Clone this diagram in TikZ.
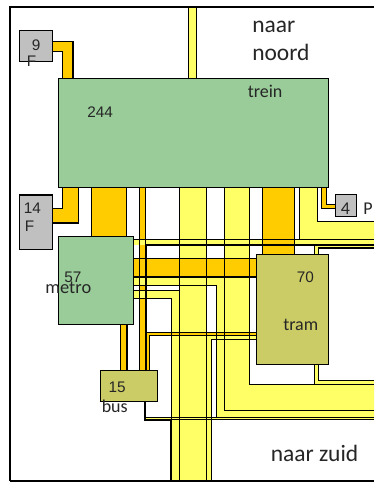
\documentclass[tikz,border=0pt]{standalone}
\usepackage{fontspec}
\setmainfont{Liberation Sans}
\newfontfamily\carl{Carlito}
\definecolor{flowyellow}{HTML}{FFFF66}
\definecolor{floworange}{HTML}{FFCC00}
\definecolor{boxgray}{HTML}{C0C0C0}
\definecolor{boxgreen}{HTML}{99CC99}
\definecolor{boxolive}{HTML}{CCCC66}
\tikzset{x=0.75pt,y=-0.75pt,
 yel/.style={fill=flowyellow},
 ora/.style={fill=floworange},
 edge/.style={draw=black,line width=0.8pt},
 thickedge/.style={draw=black,line width=1.5pt},
 basebox/.style={draw=black,line width=0.8pt,inner sep=0pt,outer sep=0pt,anchor=north west},
 graybox/.style={basebox,fill=boxgray},
 greenbox/.style={basebox,fill=boxgreen},
 olivebox/.style={basebox,fill=boxolive},
 lab/.style={font=\fontsize{11.5pt}{12pt}\selectfont,text=black!85,inner sep=0pt,anchor=base west},
 clab/.style={font=\carl\fontsize{13.5pt}{14pt}\selectfont,text=black!85,inner sep=0pt,anchor=base west},
 mlab/.style={font=\carl\fontsize{13.8pt}{15pt}\selectfont,text=black!85,inner sep=0pt,anchor=base west},
 big/.style={font=\carl\fontsize{17.6pt}{19pt}\selectfont,text=black!85,inner sep=0pt,anchor=base west}}
\begin{document}
\begin{tikzpicture}
\useasboundingbox (0,0) rectangle (374,484);
\fill[white] (0,0) rectangle (374,484);
% thin orange under yellow
\fill[ora] (139.5,188) rectangle (145.5,370);
% yellow bands
\fill[yel] (188.7,8) rectangle (196.3,78);
\fill[yel] (179.5,188) rectangle (206.5,420);
\fill[yel] (171.5,420) rectangle (211.5,481);
\fill[yel] (224.3,188) -- (249.3,188) -- (249.3,384.3) -- (374,384.3) -- (374,410.3) -- (224.3,410.3) -- cycle;
\fill[yel] (299.3,188) -- (317.3,188) -- (317.3,221.7) -- (374,221.7) -- (374,239.3) -- (299.3,239.3) -- cycle;
\fill[yel] (133.5,239.3) rectangle (374,245);
\fill[yel] (374,245) -- (374,248) -- (318.5,248) -- (318.5,380.3) -- (374,380.3) -- (374,384.3) -- (314.3,384.3) -- (314.3,245) -- cycle;
\fill[yel] (133.5,277) -- (224.3,277) -- (224.3,410.3) -- (374,410.3) -- (374,417.5) -- (216.5,417.5) -- (216.5,285.3) -- (133.5,285.3) -- cycle;
\fill[yel] (133.5,290.3) -- (179.5,290.3) -- (179.5,420) -- (171.5,420) -- (171.5,298.7) -- (133.5,298.7) -- cycle;
\fill[yel] (146,417.5) rectangle (374,419.7);
\fill[yel] (206.5,335.3) -- (256.3,335.3) -- (256.3,339.3) -- (211.5,339.3) -- (211.5,420) -- (206.5,420) -- cycle;
% orange bands
\fill[ora] (52.5,41.5) -- (73,41.5) -- (73,78.5) -- (62.7,78.5) -- (62.7,51.5) -- (52.5,51.5) -- cycle;
\fill[ora] (62.7,188) -- (78.5,188) -- (78.5,223) -- (52.5,223) -- (52.5,208.5) -- (62.7,208.5) -- cycle;
\fill[ora] (91.5,188) rectangle (126.5,236.5);
\fill[ora] (120.5,324.5) rectangle (127,370.3);
\fill[ora] (262.7,188) rectangle (294.3,254.3);
\fill[ora] (133.5,258.7) rectangle (256.3,277);
\fill[ora] (321.3,188) -- (326.3,188) -- (326.3,204.3) -- (335.3,204.3) -- (335.3,208.7) -- (321.3,208.7) -- cycle;
\fill[ora] (146.5,370.3) -- (146.5,332.5) -- (256.3,332.5) -- (256.3,335.3) -- (149.5,335.3) -- (149.5,370.3) -- cycle;
% outlines
\draw[edge] (52.5,41.5) -- (73,41.5) -- (73,78.5);
\draw[edge] (62.7,78.5) -- (62.7,51.5) -- (52.5,51.5);
\draw[edge] (62.7,188) -- (62.7,208.5) -- (52.5,208.5);
\draw[edge] (78.5,188) -- (78.5,223) -- (52.5,223);
\draw[edge] (91.5,188) -- (91.5,236.5);
\draw[edge] (126.5,188) -- (126.5,236.5);
\draw[edge] (120.5,324.5) -- (120.5,370.3);
\draw[edge] (127,324.5) -- (127,370.3);
\draw[edge] (139.5,188) -- (139.5,370.3);
\draw[edge] (145.5,188) -- (145.5,245);
\draw[edge] (188.7,8) -- (188.7,78.5);
\draw[edge] (196.3,8) -- (196.3,78.5);
\draw[edge] (179.5,188) -- (179.5,481);
\draw[edge] (206.5,188) -- (206.5,481);
\draw[edge] (211.5,481) -- (211.5,339.3) -- (256.3,339.3);
\draw[edge] (224.3,188) -- (224.3,410.3) -- (374,410.3);
\draw[edge] (249.3,188) -- (249.3,384.3) -- (374,384.3);
\draw[edge] (262.7,188) -- (262.7,254.3);
\draw[edge] (294.3,188) -- (294.3,254.3);
\draw[edge] (299.3,188) -- (299.3,239.3);
\draw[edge] (317.3,188) -- (317.3,221.7) -- (374,221.7);
\draw[edge] (321.3,188) -- (321.3,208.7) -- (335.3,208.7);
\draw[edge] (326.3,188) -- (326.3,204.3) -- (335.3,204.3);
\draw[edge] (133.5,239.3) -- (374,239.3);
\draw[edge] (374,248) -- (318.5,248) -- (318.5,380.3) -- (374,380.3);
\draw[edge] (314.3,246) -- (314.3,385.3);
\draw[edge] (133.5,258.7) -- (256.3,258.7);
\draw[edge] (133.5,277) -- (256.3,277);
\draw[edge] (133.5,285.3) -- (216.5,285.3) -- (216.5,417.5);
\draw[edge] (133.5,290.3) -- (179.5,290.3);
\draw[edge] (133.5,298.7) -- (171.5,298.7) -- (171.5,420);
\draw[edge] (149.5,370.3) -- (149.5,335.3) -- (256.3,335.3);
\draw[edge] (146.5,332.5) -- (256.3,332.5);
\draw[edge] (146,417.5) -- (374,417.5);
\draw[edge] (146,419.7) -- (374,419.7);
\draw[thickedge] (374,245) -- (146,245) -- (146,370.3);
\draw[thickedge] (144.7,401.3) -- (144.7,420) -- (171.3,420) -- (171.3,481);
% frame
\draw[line width=1.5pt] (10,481) -- (10,7.5) -- (374,7.5);
\draw[line width=0.8pt] (10,481) -- (374,481);
% boxes
\node[graybox,minimum width=24.75pt,minimum height=23.6pt] (n9) at (19.5,30.5) {};
\node[graybox,minimum width=24.75pt,minimum height=41.2pt] (n14) at (19.5,195) {};
\node[graybox,minimum width=16pt,minimum height=16.7pt] (n4) at (335.3,194.3) {};
\node[greenbox,minimum width=202.5pt,minimum height=82.1pt] (trein) at (58.5,78.5) {};
\node[greenbox,minimum width=56.25pt,minimum height=66pt] (metro) at (58.5,236.5) {};
\node[olivebox,minimum width=42.4pt,minimum height=23.2pt] (bus) at (100.5,370.3) {};
\node[olivebox,minimum width=54.3pt,minimum height=82.5pt] (tram) at (256.3,254.3) {};
% labels
\node[lab] (t9) at (31.5,51) {9};
\node[lab] (tf1) at (26.5,66.7) {F};
\node[lab] (t14) at (23.5,214) {14};
\node[lab] (tf2) at (24.5,231.7) {F};
\node[lab] (t244) at (87,117.3) {244};
\node[clab] (ttrein) at (247.5,97.7) {trein};
\node[lab] (t57) at (64,282) {57};
\node[mlab] (tmetro) at (45.2,293) {metro};
\node[lab] (t15) at (108.3,392) {15};
\node[clab] (tbus) at (101.5,412) {bus};
\node[lab] (t70) at (296.7,282) {70};
\node[clab] (ttram) at (283,330.3) {tram};
\node[clab] (t4) at (340.5,214.3) {4};
\node[clab] (tp) at (363,214.3) {P};
\node[big] (tn1) at (252,32.3) {naar};
\node[big] (tn2) at (252,61) {noord};
\node[big] (tz) at (270.5,461) {naar zuid};
\end{tikzpicture}
\end{document}
